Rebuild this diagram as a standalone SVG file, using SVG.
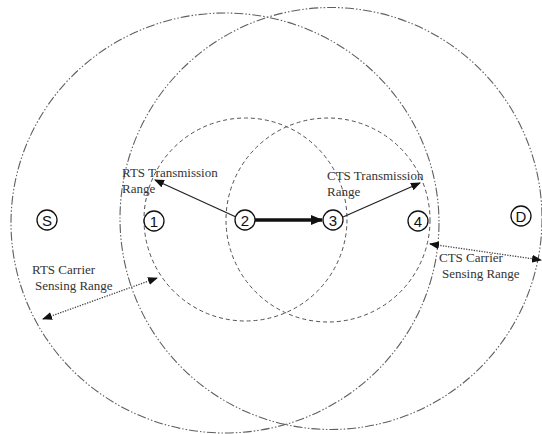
<svg xmlns="http://www.w3.org/2000/svg" width="542" height="434" viewBox="0 0 542 434">
<style>
.big{fill:none;stroke:#5f5f5f;stroke-width:1.1;stroke-dasharray:9 2 1.5 2 1.5 2}
.small{fill:none;stroke:#505050;stroke-width:1;stroke-dasharray:4 3}
.node circle{fill:#fff;stroke:#111;stroke-width:1.3}
.node text{font-family:"Liberation Sans","DejaVu Sans",sans-serif;font-size:15px;fill:#111;text-anchor:middle;dominant-baseline:central}
.lbl{font-family:"Liberation Serif","Times New Roman",serif;font-size:13px;fill:#333}
.arr{stroke:#222;stroke-width:1.3;fill:none}
.dot{stroke:#444;stroke-width:1.3;fill:none;stroke-dasharray:1.3 1.3}
</style>
<defs>
<marker id="ah" markerWidth="10" markerHeight="8" refX="9" refY="4" orient="auto" markerUnits="userSpaceOnUse">
<path d="M0,0 L10,4 L0,8 Z" fill="#111"/>
</marker>
<marker id="ahs" markerWidth="10" markerHeight="8" refX="1" refY="4" orient="auto" markerUnits="userSpaceOnUse">
<path d="M10,0 L0,4 L10,8 Z" fill="#111"/>
</marker>
<marker id="ahb" markerWidth="12" markerHeight="10" refX="11" refY="5" orient="auto" markerUnits="userSpaceOnUse">
<path d="M0,0 L12,5 L0,10 Z" fill="#111"/>
</marker>
</defs>
<g id="ranges">
<ellipse class="big" cx="225" cy="223" rx="214" ry="210"/>
<circle class="big" cx="331" cy="218.5" r="211"/>
<circle class="small" cx="245.5" cy="219.5" r="101.5"/>
<circle class="small" cx="328" cy="220" r="102"/>
</g>
<g id="connectors">
<line class="arr" x1="236" y1="217" x2="155" y2="180" marker-end="url(#ah)"/>
<line class="arr" x1="343" y1="217" x2="420" y2="183" marker-end="url(#ah)"/>
<line x1="255" y1="220" x2="322" y2="220" stroke="#111" stroke-width="3.5" marker-end="url(#ahb)"/>
<line class="dot" x1="43" y1="319" x2="157" y2="278" marker-start="url(#ahs)" marker-end="url(#ah)"/>
<line class="dot" x1="430" y1="244" x2="541" y2="260" marker-start="url(#ahs)" marker-end="url(#ah)"/>
</g>
<g id="node-S" class="node"><circle cx="47" cy="220" r="10"/><text x="47" y="220.5">S</text></g>
<g id="node-1" class="node"><circle cx="154" cy="221" r="10"/><text x="154" y="221.5">1</text></g>
<g id="node-2" class="node"><circle cx="245" cy="220" r="10"/><text x="245" y="220.5">2</text></g>
<g id="node-3" class="node"><circle cx="333" cy="220" r="10"/><text x="333" y="220.5">3</text></g>
<g id="node-4" class="node"><circle cx="418" cy="221" r="10"/><text x="418" y="221.5">4</text></g>
<g id="node-D" class="node"><circle cx="521" cy="216" r="10"/><text x="521" y="216.5">D</text></g>
<g id="labels">
<text class="lbl" x="122" y="177">RTS Transmission</text>
<text class="lbl" x="122" y="193">Range</text>
<text class="lbl" x="327" y="180">CTS Transmission</text>
<text class="lbl" x="327" y="196">Range</text>
<text class="lbl" x="32" y="274">RTS Carrier</text>
<text class="lbl" x="35" y="290">Sensing Range</text>
<text class="lbl" x="439" y="262">CTS Carrier</text>
<text class="lbl" x="442" y="278">Sensing Range</text>
</g>
</svg>
